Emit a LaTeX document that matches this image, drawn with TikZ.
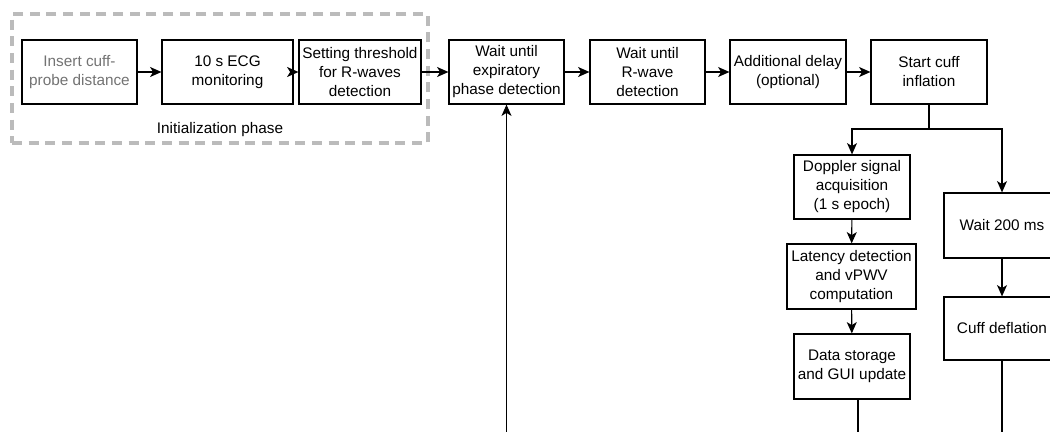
\documentclass[tikz,border=0pt]{standalone}
\usepackage{fontspec}
\setmainfont{Liberation Sans}
\usetikzlibrary{arrows.meta}
\definecolor{framegray}{HTML}{BBBBBB}
\definecolor{txtgray}{HTML}{737373}
\tikzset{
  stepbox/.style={draw, line width=0.9pt, align=center, inner sep=0pt,
    font=\fontsize{11.5}{14.25}\selectfont},
  arr/.style={-{Stealth[length=8.5pt,width=7.5pt,inset=2.3pt]}, line width=0.8pt},
  plain/.style={line width=0.8pt},
  initframe/.style={draw=framegray, line width=2.3pt, dash pattern=on 7.5pt off 5pt,
    minimum width=312pt, minimum height=96.75pt, inner sep=0pt},
}
\begin{document}
\begin{tikzpicture}[x=0.75pt,y=-0.75pt]
\clip (0,0) rectangle (1050,432);
\fill[white] (0,0) rectangle (1050,432);
% initialization frame
\node[initframe] (init) at (220,78.5) {};
\node[font=\fontsize{11.5}{14.25}\selectfont] (initlbl) at (220,130) {Initialization phase};
% top row
\node[stepbox, text=txtgray, minimum width=86.25pt, minimum height=48pt] (b1) at (79.5,72) {Insert cuff-\\probe distance};
\node[stepbox, minimum width=98.25pt, minimum height=48pt] (b2) at (227.5,72) {10 s ECG\\monitoring};
\node[stepbox, minimum width=91.5pt, minimum height=48pt] (b3) at (360,72) {Setting threshold\\for R-waves\\detection};
\node[stepbox, minimum width=86.25pt, minimum height=48pt] (b4) at (506.5,72) {Wait until\\expiratory\\phase detection};
\node[stepbox, minimum width=86.25pt, minimum height=48pt] (b5) at (647.5,72) {Wait until\\R-wave\\detection};
\node[stepbox, minimum width=87pt, minimum height=48pt] (b6) at (788,72) {Additional delay\\(optional)};
\node[stepbox, minimum width=87pt, minimum height=48pt] (b7) at (929,72) {Start cuff\\inflation};
% left branch
\node[stepbox, minimum width=87pt, minimum height=48pt] (dop) at (852,187) {Doppler signal\\acquisition\\(1 s epoch)};
\node[stepbox, minimum width=96.75pt, minimum height=48.75pt] (lat) at (851.5,276.5) {Latency detection\\and vPWV\\computation};
\node[stepbox, minimum width=87pt, minimum height=48.75pt] (dat) at (852,366.5) {Data storage\\and GUI update};
% right branch
\node[stepbox, minimum width=87pt, minimum height=48.75pt] (w200) at (1002,225.5) {Wait 200 ms};
\node[stepbox, minimum width=87pt, minimum height=47.25pt] (cdef) at (1002,328.5) {Cuff deflation};
% coordinates
\coordinate (split) at (929,129);
\coordinate (datout) at (858,440);
\coordinate (cdefout) at (1002,440);
\coordinate (loopin) at (506.5,440);
% connectors
\draw[arr] (b1) -- (b2);
\draw[arr] (b2) -- (b3);
\draw[arr] (b3) -- (b4);
\draw[arr] (b4) -- (b5);
\draw[arr] (b5) -- (b6);
\draw[arr] (b6) -- (b7);
\draw[arr] (b7.south) -- (split) -| (dop.north);
\draw[arr] (split) -| (w200.north);
\draw[arr] (dop) -- (lat);
\draw[arr] (lat) -- (dat);
\draw[arr] (w200) -- (cdef);
\draw[plain] (datout |- dat.south) -- (datout);
\draw[plain] (cdef.south) -- (cdefout);
\draw[arr] (loopin) -- (b4.south);
\end{tikzpicture}
\end{document}
